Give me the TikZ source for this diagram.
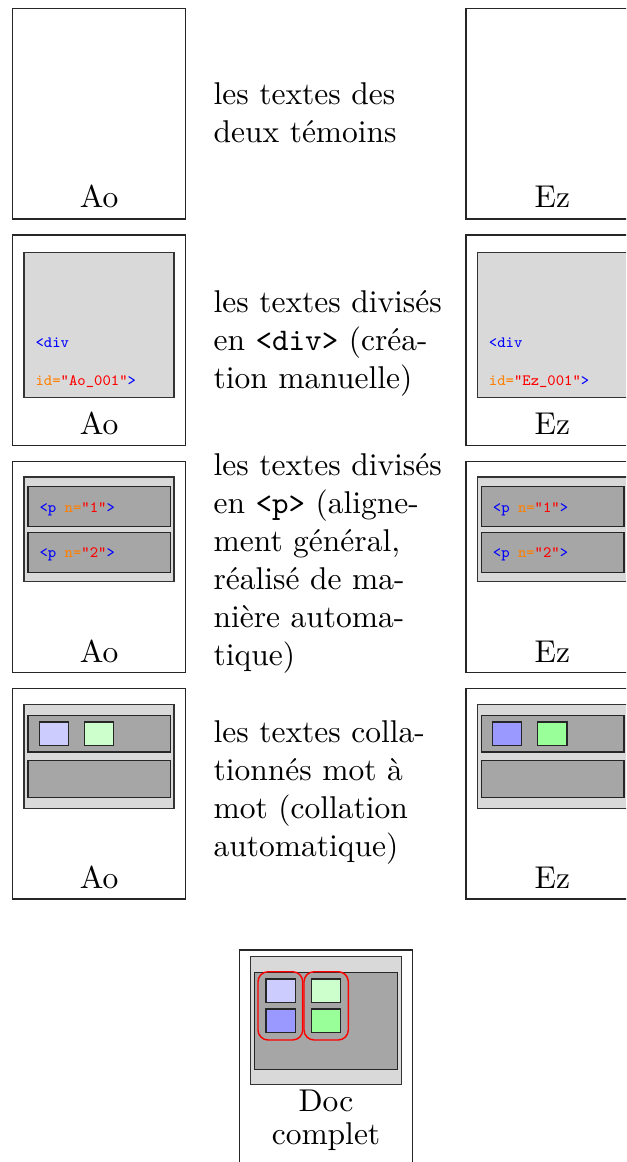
\documentclass[tikz,border=0pt]{standalone}
\usepackage{fontspec}
\begin{document}
\begin{tikzpicture}[x=0.3175pt,y=-0.3175pt,
  frame/.style={draw=black!85,line width=0.45pt,fill=white},
  light/.style={draw=black!80,fill=gray!30,line width=0.45pt},
  dark/.style={draw=black!85,fill=gray!70,line width=0.45pt},
  word/.style={draw=black!85,line width=0.45pt},
  lab/.style={anchor=base,inner sep=0pt},
  txt/.style={anchor=base west,inner sep=0pt},
  code/.style={anchor=base west,inner sep=0pt,font=\tiny\ttfamily},
  grp/.style={draw=red,rounded corners=3.2pt,line width=0.45pt}]
\useasboundingbox (0,0) rectangle (626,1162);
\clip (0,0) rectangle (626,1162);
\fill[white] (0,0) rectangle (626,1162);

\foreach \xo/\nm/\lc/\dc in {12.7/Ao/blue!20/green!20, 466/Ez/blue!40/green!40}{
  % row 1
  \begin{scope}[shift={(\xo,8.3)}]
    \draw[frame] (0,0) rectangle (172.6,210.7);
    \node[lab] (l1\nm) at (86.3,199) {\nm};
  \end{scope}
  % row 2
  \begin{scope}[shift={(\xo,235)}]
    \draw[frame] (0,0) rectangle (172.6,210.7);
    \draw[light] (11.3,17.7) rectangle (161.3,162.7);
    \node[code] (d1\nm) at (22.3,112) {\color{blue}<div};
    \node[code] (d2\nm) at (22.3,150) {\color{orange}id=\color{red}"\nm\_001"\color{blue}>};
    \node[lab] (l2\nm) at (86.3,199) {\nm};
  \end{scope}
  % row 3
  \begin{scope}[shift={(\xo,461.7)}]
    \draw[frame] (0,0) rectangle (172.6,210.7);
    \draw[light] (11.3,15.3) rectangle (161.3,120);
    \draw[dark] (15.3,25) rectangle (158,65);
    \draw[dark] (15.3,70.6) rectangle (158,110.6);
    \node[code] (p1\nm) at (26.3,50.3) {\color{blue}<p \color{orange}n=\color{red}"1"\color{blue}>};
    \node[code] (p2\nm) at (26.3,96) {\color{blue}<p \color{orange}n=\color{red}"2"\color{blue}>};
    \node[lab] (l3\nm) at (86.3,200.6) {\nm};
  \end{scope}
  % row 4
  \begin{scope}[shift={(\xo,688.3)}]
    \draw[frame] (0,0) rectangle (172.6,210.7);
    \draw[light] (11.3,16) rectangle (161.3,120);
    \draw[dark] (15.3,27) rectangle (158,63.7);
    \draw[dark] (15.3,72) rectangle (158,109);
    \draw[word,fill=\lc] (26.6,33.7) rectangle (55.6,57);
    \draw[word,fill=\dc] (71.6,33.7) rectangle (101,57);
    \node[lab] (l4\nm) at (86.3,200) {\nm};
  \end{scope}
}

% middle texts
\node[txt] (a1) at (213,105) {les textes des};
\node[txt] (a2) at (213,143) {deux témoins};

\node[txt] (b1) at (213,312) {les textes divisés};
\node[txt] (b2) at (213,350) {en \texttt{<div>} (créa-};
\node[txt] (b3) at (213,388) {tion manuelle)};

\node[txt] (c1) at (213,475) {les textes divisés};
\node[txt] (c2) at (213,513) {en \texttt{<p>} (aligne-};
\node[txt] (c3) at (213,551) {ment général,};
\node[txt] (c4) at (213,589) {réalisé de ma-};
\node[txt] (c5) at (213,627) {nière automa-};
\node[txt] (c6) at (213,665) {tique)};

\node[txt] (e1) at (213,742) {les textes colla-};
\node[txt] (e2) at (213,780) {tionnés mot à};
\node[txt] (e3) at (213,818) {mot (collation};
\node[txt] (e4) at (213,856) {automatique)};

% complete document
\begin{scope}[shift={(239.3,950)}]
  \draw[frame] (0,0) rectangle (173.4,240);
  \draw[light] (11.4,6.7) rectangle (162,134.3);
  \draw[dark] (15,22.3) rectangle (158,119.3);
  \draw[word,fill=blue!20] (26.7,29) rectangle (56,52.3);
  \draw[word,fill=blue!40] (26.7,59) rectangle (56,82.3);
  \draw[word,fill=green!20] (72,29) rectangle (101.4,52.3);
  \draw[word,fill=green!40] (72,59) rectangle (101.4,82.3);
  \draw[grp] (18.7,21.7) rectangle (63.4,90);
  \draw[grp] (64.7,21.7) rectangle (109,90);
  \node[lab] (doc1) at (86.7,161.5) {Doc};
  \node[lab] (doc2) at (86.7,194.5) {complet};
\end{scope}
\end{tikzpicture}
\end{document}
